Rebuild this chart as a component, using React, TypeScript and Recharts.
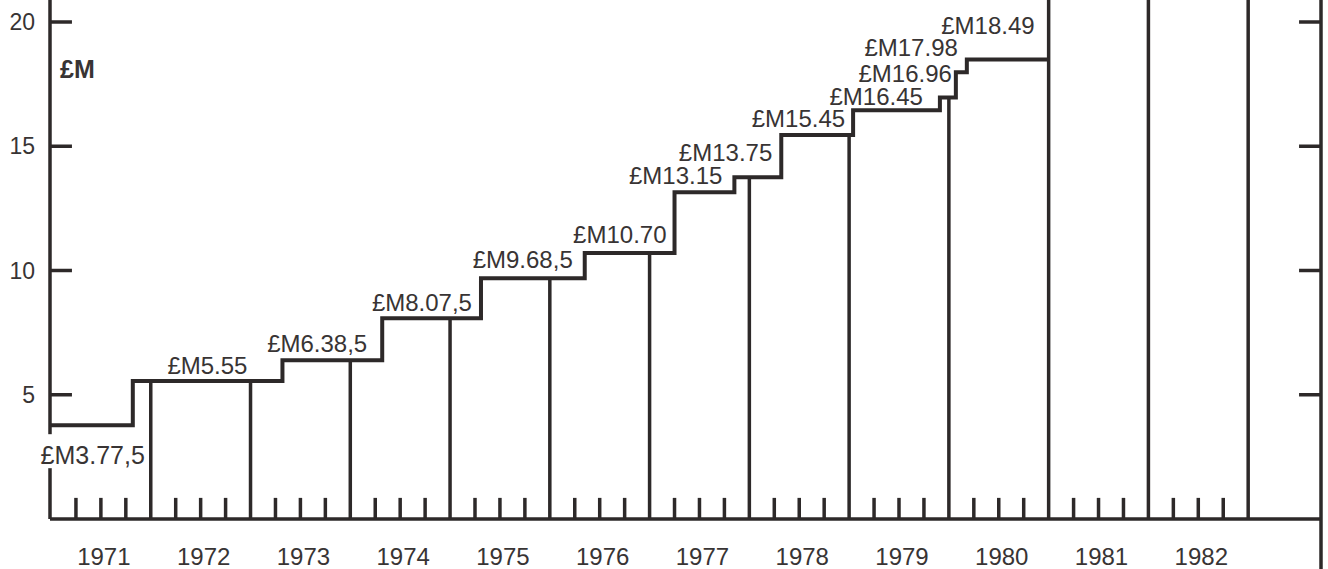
import { ComposedChart, Line, Scatter, XAxis, YAxis, ReferenceLine } from 'recharts';

// year categories shown under the axis
const YEARS = [1971, 1972, 1973, 1974, 1975, 1976, 1977, 1978, 1979, 1980, 1981, 1982];
// when each new level starts (decimal years) and its value in £M
const STEP_START = [1971.0, 1971.82, 1973.32, 1974.32, 1975.31, 1976.35, 1977.25, 1977.85, 1978.32, 1979.04, 1979.91, 1980.07, 1980.18];
const STEP_VALUE = [3.775, 5.55, 6.385, 8.075, 9.685, 10.7, 13.15, 13.75, 15.45, 16.45, 16.96, 17.98, 18.49];
const STEP_LABEL = ['£M3.77,5', '£M5.55', '£M6.38,5', '£M8.07,5', '£M9.68,5', '£M10.70', '£M13.15', '£M13.75', '£M15.45', '£M16.45', '£M16.96', '£M17.98', '£M18.49'];
const SERIES_END = 1981;
const Y_TICKS = [5, 10, 15, 20];

// layout
const W = 1328;
const H = 569;
const X_MIN = 1970.99;
const X_MAX = 1983.73;
const Y_MAX = 20.885;
const INK = '#2d2929';
const TEXT = '#383434';
const FONT = '"Liberation Sans", Arial, sans-serif';
// label offsets (px) from the end of each step: [dx, dy]
const LABEL_NUDGE: [number, number][] = [
  [12, 39], [-35, -7], [-15, -8], [-9, -7], [-12, -10], [-8, -10], [-12, -8],
  [-9, -16], [-8, -8], [-17, -5], [-4, -16], [-9, -16], [-14, -26],
];

const stepData = STEP_START.map((x, i) => ({ x, v: STEP_VALUE[i] })).concat([
  { x: SERIES_END, v: STEP_VALUE[STEP_VALUE.length - 1] },
]);

const labelData = STEP_LABEL.map((label, i) => ({
  x: i < STEP_START.length - 1 ? STEP_START[i + 1] : SERIES_END,
  v: STEP_VALUE[i],
  label,
  i,
}));

const valueAt = (t: number) => {
  if (t >= SERIES_END) return Y_MAX;
  let v = STEP_VALUE[0];
  STEP_START.forEach((s, i) => {
    if (t >= s) v = STEP_VALUE[i];
  });
  return v;
};

const boundaries = [...YEARS.slice(1), YEARS[YEARS.length - 1] + 1];
const quarters = YEARS.flatMap((y) => [y + 0.25, y + 0.5, y + 0.75]);

const StepLabel = (props: any) => {
  const { cx, cy, payload } = props;
  const [dx, dy] = LABEL_NUDGE[payload.i];
  return (
    <g>
      {payload.i === 0 && (
        <rect x={cx + dx - 112} y={cy + dy - 30} width={112} height={34} fill="#fff" />
      )}
      <text
        x={cx + dx}
        y={cy + dy}
        textAnchor="end"
        fontSize={payload.i === 0 ? 25 : 24}
        fontFamily={FONT}
        fill={TEXT}
      >
        {payload.label}
      </text>
    </g>
  );
};

const UnitLabel = (props: any) => {
  const vb = props.viewBox || { x: 0, y: 0, width: 50 };
  return (
    <text x={vb.x + vb.width + 10} y={vb.y + 78} fontSize={25} fontWeight="bold" fontFamily={FONT} fill={TEXT}>
      £M
    </text>
  );
};

export default function App() {
  return (
    <div style={{ position: 'absolute', left: 0, top: 0, width: W, height: H, background: '#fff' }}>
      <ComposedChart width={W} height={H} data={stepData} margin={{ top: 0, right: 7, bottom: 0, left: 0 }}>
        <XAxis
          type="number"
          dataKey="x"
          domain={[X_MIN, X_MAX]}
          ticks={YEARS.map((y) => y + 0.5)}
          tickFormatter={(t: number) => String(Math.floor(t))}
          interval={0}
          height={50}
          axisLine={{ stroke: INK, strokeWidth: 3.5 }}
          tickLine={false}
          tickSize={0}
          tickMargin={29}
          tick={{ fontSize: 24, fill: TEXT, fontFamily: FONT, dx: 3 }}
        />
        <YAxis
          type="number"
          domain={[0, Y_MAX]}
          ticks={Y_TICKS}
          width={50}
          axisLine={{ stroke: INK, strokeWidth: 3.5 }}
          tickLine={false}
          tickSize={0}
          tickMargin={15}
          tick={{ fontSize: 23, fill: TEXT, fontFamily: FONT }}
          label={<UnitLabel />}
        />
        {boundaries.map((b) => (
          <ReferenceLine
            key={'b' + b}
            segment={[{ x: b, y: 0 }, { x: b, y: valueAt(b) }]}
            stroke={INK}
            strokeWidth={3.5}
            ifOverflow="visible"
          />
        ))}
        {quarters.map((q) => (
          <ReferenceLine
            key={'q' + q}
            segment={[{ x: q, y: 0 }, { x: q, y: 0.85 }]}
            stroke={INK}
            strokeWidth={3.5}
            ifOverflow="visible"
          />
        ))}
        {Y_TICKS.map((v) => (
          <ReferenceLine
            key={'l' + v}
            segment={[{ x: X_MIN, y: v }, { x: X_MIN + 0.22, y: v }]}
            stroke={INK}
            strokeWidth={3.5}
            ifOverflow="visible"
          />
        ))}
        {Y_TICKS.map((v) => (
          <ReferenceLine
            key={'r' + v}
            segment={[{ x: X_MAX - 0.22, y: v }, { x: X_MAX, y: v }]}
            stroke={INK}
            strokeWidth={3.5}
            ifOverflow="visible"
          />
        ))}
        <ReferenceLine
          segment={[{ x: X_MAX, y: -2.1 }, { x: X_MAX, y: Y_MAX }]}
          stroke={INK}
          strokeWidth={3.5}
          ifOverflow="visible"
        />
        <Line
          type="stepAfter"
          dataKey="v"
          stroke={INK}
          strokeWidth={4}
          dot={false}
          activeDot={false}
          isAnimationActive={false}
        />
        <Scatter data={labelData} dataKey="v" shape={StepLabel} isAnimationActive={false} />
      </ComposedChart>
    </div>
  );
}
